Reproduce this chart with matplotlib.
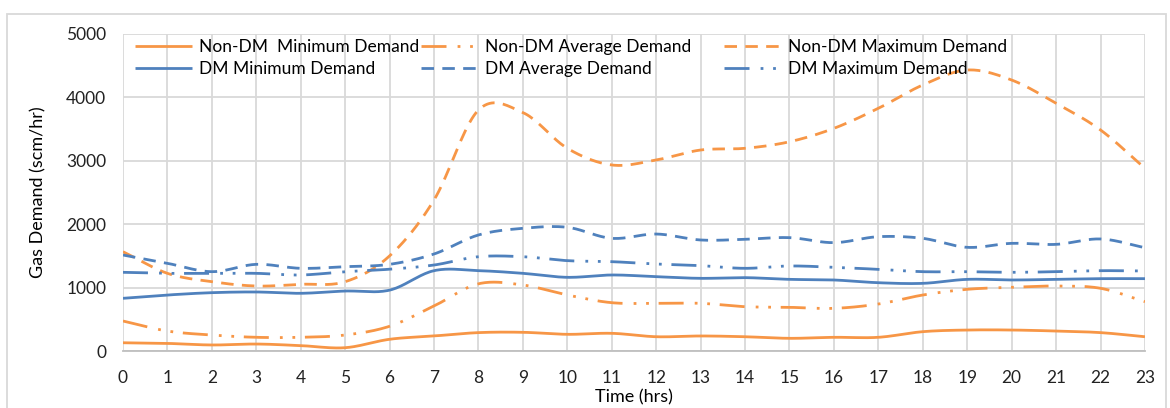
import numpy as np
import matplotlib.pyplot as plt
from matplotlib.patches import Rectangle

plt.rcParams['font.family'] = ['Lato', 'DejaVu Sans']

hours = list(range(24))

non_dm_min = [130, 120, 95, 110, 85, 52, 185, 237, 290, 295, 263, 279,
              225, 237, 225, 200, 216, 216, 305, 331, 331, 315, 290, 225]
non_dm_avg = [473, 315, 252, 216, 216, 252, 390, 710, 1060, 1041, 883, 762,
              752, 752, 699, 689, 673, 741, 883, 973, 1004, 1025, 989, 778]
non_dm_max = [1566, 1225, 1093, 1025, 1052, 1093, 1500, 2382, 3800, 3760, 3197, 2934,
              3013, 3170, 3197, 3300, 3512, 3828, 4196, 4432, 4274, 3907, 3486, 2882]
dm_min = [831, 883, 920, 931, 910, 946, 960, 1267, 1267, 1225, 1162, 1199,
          1172, 1146, 1157, 1130, 1120, 1077, 1067, 1130, 1120, 1130, 1141, 1141]
dm_avg = [1514, 1383, 1251, 1367, 1304, 1330, 1367, 1530, 1830, 1935, 1951, 1777,
          1845, 1751, 1762, 1788, 1709, 1803, 1777, 1635, 1698, 1682, 1767, 1630]
dm_max = [1241, 1225, 1225, 1225, 1199, 1251, 1290, 1356, 1487, 1487, 1425, 1409,
          1372, 1346, 1304, 1341, 1320, 1288, 1251, 1251, 1241, 1251, 1267, 1262]

ORANGE = '#F79646'
BLUE = '#4F81BD'


def smooth(x, y, n=20):
    # catmull-rom, roughly what excel does with "smoothed line"
    x = np.asarray(x, float)
    y = np.asarray(y, float)
    px = np.concatenate([[2 * x[0] - x[1]], x, [2 * x[-1] - x[-2]]])
    py = np.concatenate([[2 * y[0] - y[1]], y, [2 * y[-1] - y[-2]]])
    xs, ys = [], []
    t = np.linspace(0, 1, n, endpoint=False)
    for i in range(1, len(px) - 2):
        for p, out in ((px, xs), (py, ys)):
            p0, p1, p2, p3 = p[i - 1], p[i], p[i + 1], p[i + 2]
            out.extend(0.5 * (2 * p1 + (-p0 + p2) * t
                              + (2 * p0 - 5 * p1 + 4 * p2 - p3) * t ** 2
                              + (-p0 + 3 * p1 - 3 * p2 + p3) * t ** 3))
    xs.append(x[-1])
    ys.append(y[-1])
    return xs, ys


fig = plt.figure(figsize=(11.7, 4.08), dpi=100)
ax = fig.add_axes([0.1051, 0.1397, 0.8735, 0.777])

dashdotdot = (0, (9, 4, 1, 3.5, 1, 3.5))
dashed = (0, (4.5, 3))

series = [
    (non_dm_min, 'Non-DM  Minimum Demand', ORANGE, '-'),
    (non_dm_avg, 'Non-DM Average Demand', ORANGE, dashdotdot),
    (non_dm_max, 'Non-DM Maximum Demand', ORANGE, dashed),
    (dm_min, 'DM Minimum Demand', BLUE, '-'),
    (dm_avg, 'DM Average Demand', BLUE, dashed),
    (dm_max, 'DM Maximum Demand', BLUE, dashdotdot),
]
handles = []
for vals, label, color, ls in series:
    sx, sy = smooth(hours, vals)
    line, = ax.plot(sx, sy, color=color, linestyle=ls, lw=2.0, label=label,
                    solid_capstyle='butt', dash_capstyle='butt')
    handles.append(line)

ax.set_xlim(0, 23)
ax.set_ylim(0, 5000)
ax.set_xticks(hours)
ax.set_yticks(range(0, 5001, 1000))
ax.grid(True, color='#D9D9D9', lw=1.3)
ax.set_axisbelow(True)
for s in ['top', 'right', 'left']:
    ax.spines[s].set_visible(False)
ax.spines['bottom'].set_color('#BFBFBF')
ax.spines['bottom'].set_linewidth(1.3)
ax.tick_params(length=0, labelsize=12.5, colors='#222222')
ax.tick_params(axis='y', pad=12)
ax.tick_params(axis='x', pad=14)
ax.set_ylabel('Gas Demand (scm/hr)', fontsize=13, labelpad=14)
ax.set_xlabel('Time (hrs)', fontsize=13, labelpad=2)

# three legend columns, excel spaces them unevenly
xs_leg = [0.0068, 0.2867, 0.5831]
legs = []
for k, xl in enumerate(xs_leg):
    leg = ax.legend(handles=[handles[k], handles[k + 3]], loc='upper left',
                    bbox_to_anchor=(xl, 1.0), frameon=False, fontsize=12.5,
                    handlelength=3.3, handletextpad=0.4, labelspacing=0.35,
                    borderaxespad=0, borderpad=0.3)
    legs.append(leg)
for leg in legs[:-1]:
    ax.add_artist(leg)

fig.patches.append(Rectangle((7 / 1170, -0.05), 1159 / 1170, 1.05 - 14 / 408,
                             transform=fig.transFigure, fill=False,
                             edgecolor='#D9D9D9', lw=1.3))

fig.savefig('out.png', dpi=100)
